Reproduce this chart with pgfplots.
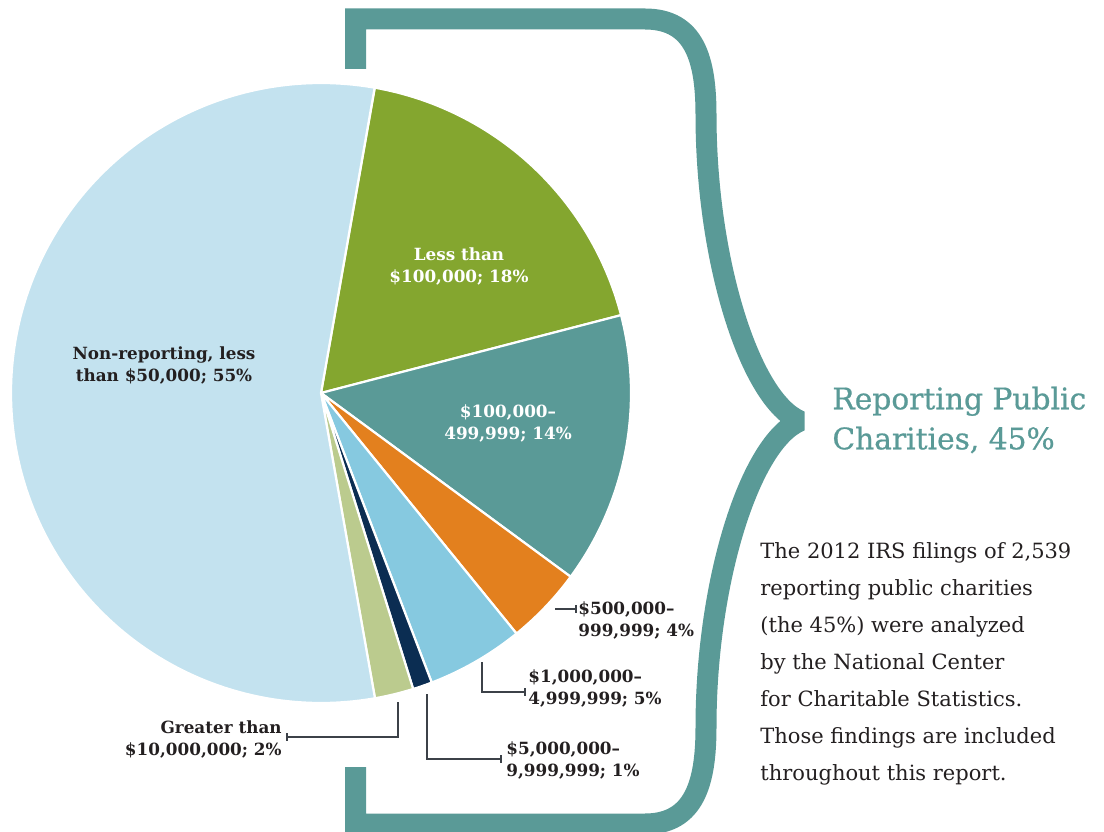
\documentclass[border=0pt]{standalone}
\usepackage{pgfplots}
\pgfplotsset{compat=1.18}
\usepackage{pgfplotstable}
\usepackage{fontspec}
\setmainfont{DejaVu Serif}
\newfontfamily\titlefont[FakeBold=0.7]{DejaVu Serif}

\definecolor{cLight}{HTML}{C3E2EF}
\definecolor{cGreen}{HTML}{84A62F}
\definecolor{cTeal}{HTML}{5A9A97}
\definecolor{cOrange}{HTML}{E3801E}
\definecolor{cSky}{HTML}{86C9E0}
\definecolor{cNavy}{HTML}{0B2D52}
\definecolor{cSage}{HTML}{BBCB8E}
\definecolor{cText}{HTML}{231F20}
\definecolor{cLead}{HTML}{3C4148}

% share of charities by annual revenue (percent)
\pgfplotstableread{
slice value
LessThan100k 18
100kTo499k 14
500kTo999k 4
1MTo4.9M 5
5MTo9.9M 1
Over10M 2
NonReporting 55
}\piedata
\def\total{99}
\pgfmathsetmacro\aA{80}
\pgfplotstablegetelem{0}{value}\of\piedata \pgfmathsetmacro\aB{\aA-\pgfplotsretval/\total*360}
\pgfplotstablegetelem{1}{value}\of\piedata \pgfmathsetmacro\aC{\aB-\pgfplotsretval/\total*360}
\pgfplotstablegetelem{2}{value}\of\piedata \pgfmathsetmacro\aD{\aC-\pgfplotsretval/\total*360}
\pgfplotstablegetelem{3}{value}\of\piedata \pgfmathsetmacro\aE{\aD-\pgfplotsretval/\total*360}
\pgfplotstablegetelem{4}{value}\of\piedata \pgfmathsetmacro\aF{\aE-\pgfplotsretval/\total*360}
\pgfplotstablegetelem{5}{value}\of\piedata \pgfmathsetmacro\aG{\aF-\pgfplotsretval/\total*360}
\pgfplotstablegetelem{6}{value}\of\piedata \pgfmathsetmacro\aH{\aG-\pgfplotsretval/\total*360}

\newcommand\lab{\fontsize{8.4bp}{11bp}\selectfont\bfseries}

\begin{document}
\begin{tikzpicture}
\begin{axis}[scale only axis, width=552bp, height=416bp,
  xmin=0, xmax=1104, ymin=0, ymax=832, y dir=reverse,
  hide axis, clip=false]
\coordinate (BL) at (rel axis cs:0,0);
\coordinate (TR) at (rel axis cs:1,1);

% pie slices
\addplot[draw=white, line width=1.1bp, fill=cGreen, domain=\aB:\aA, samples=60, variable=\t]
  ({321+310*cos(\t)},{393-310*sin(\t)}) -- (axis cs:321,393) -- cycle;
\addplot[draw=white, line width=1.1bp, fill=cTeal, domain=\aC:\aB, samples=50, variable=\t]
  ({321+310*cos(\t)},{393-310*sin(\t)}) -- (axis cs:321,393) -- cycle;
\addplot[draw=white, line width=1.1bp, fill=cOrange, domain=\aD:\aC, samples=20, variable=\t]
  ({321+310*cos(\t)},{393-310*sin(\t)}) -- (axis cs:321,393) -- cycle;
\addplot[draw=white, line width=1.1bp, fill=cSky, domain=\aE:\aD, samples=20, variable=\t]
  ({321+310*cos(\t)},{393-310*sin(\t)}) -- (axis cs:321,393) -- cycle;
\addplot[draw=white, line width=1.1bp, fill=cNavy, domain=\aF:\aE, samples=8, variable=\t]
  ({321+310*cos(\t)},{393-310*sin(\t)}) -- (axis cs:321,393) -- cycle;
\addplot[draw=white, line width=1.1bp, fill=cSage, domain=\aG:\aF, samples=10, variable=\t]
  ({321+310*cos(\t)},{393-310*sin(\t)}) -- (axis cs:321,393) -- cycle;
\addplot[draw=white, line width=1.1bp, fill=cLight, domain=\aH:\aG, samples=150, variable=\t]
  ({321+310*cos(\t)},{393-310*sin(\t)}) -- (axis cs:321,393) -- cycle;

% brace
\draw[cTeal, line width=10.5bp, line join=miter, miter limit=2]
  (axis cs:355.5,69) -- (axis cs:355.5,19) -- (axis cs:645,19)
  .. controls (axis cs:695,19) and (axis cs:706,60) .. (axis cs:706,115)
  .. controls (axis cs:706,260) and (axis cs:750,400) .. (axis cs:800,421)
  .. controls (axis cs:750,442) and (axis cs:706,582) .. (axis cs:706,727)
  .. controls (axis cs:706,782) and (axis cs:695,824) .. (axis cs:645,824)
  -- (axis cs:355.5,824) -- (axis cs:355.5,767);

% leader lines
\begin{scope}[cLead, line width=0.75bp]
\draw (axis cs:555,609) -- (axis cs:576,609);
\draw (axis cs:576,605) -- (axis cs:576,613);
\draw (axis cs:482,662) -- (axis cs:482,692) -- (axis cs:525,692);
\draw (axis cs:525,688) -- (axis cs:525,696);
\draw (axis cs:427,694) -- (axis cs:427,759) -- (axis cs:501,759);
\draw (axis cs:501,755) -- (axis cs:501,763);
\draw (axis cs:398,702) -- (axis cs:398,737) -- (axis cs:287,737);
\draw (axis cs:287,733) -- (axis cs:287,741);
\end{scope}

% slice labels
\node[align=center, text=cText, font=\lab, inner sep=0] at (axis cs:164,366)
  {Non-reporting, less\\than \$50,000; 55\%};
\node[align=center, text=white, font=\lab, inner sep=0] at (axis cs:459,267)
  {Less than\\\$100,000; 18\%};
\node[align=center, text=white, font=\lab, inner sep=0] at (axis cs:508,423)
  {\$100,000–\\499,999; 14\%};
\node[align=left, text=cText, font=\lab, inner sep=0, anchor=west] at (axis cs:578,620.5)
  {\$500,000–\\999,999; 4\%};
\node[align=left, text=cText, font=\lab, inner sep=0, anchor=west] at (axis cs:528,688)
  {\$1,000,000–\\4,999,999; 5\%};
\node[align=left, text=cText, font=\lab, inner sep=0, anchor=west] at (axis cs:506,760.5)
  {\$5,000,000–\\9,999,999; 1\%};
\node[align=right, text=cText, font=\lab, inner sep=0, anchor=east] at (axis cs:282,739)
  {Greater than\\\$10,000,000; 2\%};

% title and note
\node[align=left, text=cTeal, font=\titlefont\fontsize{14.85bp}{20bp}\selectfont, inner sep=0, anchor=west]
  at (axis cs:832,420) {Reporting Public\\Charities, 45\%};
\node[align=left, text=cText, font=\fontsize{10.5bp}{18.5bp}\selectfont, inner sep=0, anchor=west]
  at (axis cs:760,664) {The 2012 IRS filings of 2,539\\reporting public charities\\(the 45\%) were analyzed\\by the National Center\\for Charitable Statistics.\\Those findings are included\\throughout this report.};
\end{axis}
\pgfresetboundingbox
\useasboundingbox (BL) rectangle (TR);
\end{tikzpicture}
\end{document}
